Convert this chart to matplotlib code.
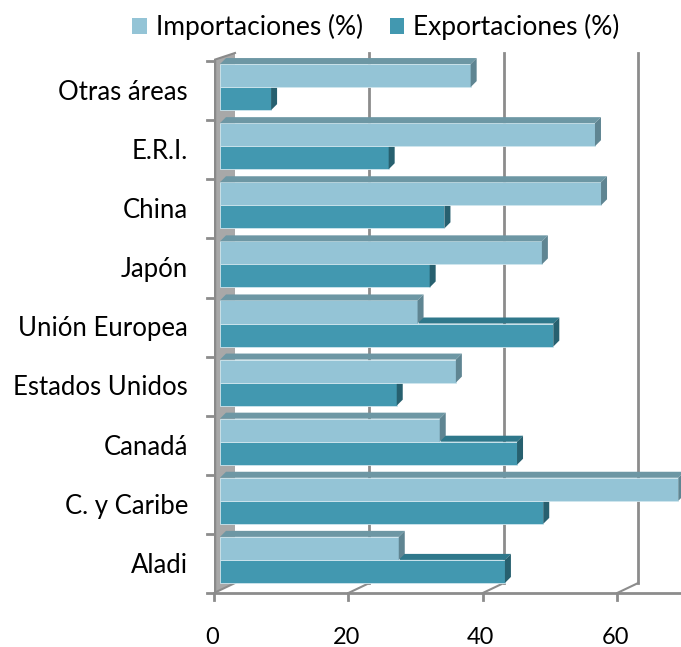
import matplotlib
matplotlib.use("Agg")
import matplotlib.pyplot as plt
from matplotlib.patches import Polygon, Patch
import numpy as np

categories = ["Aladi", "C. y Caribe", "Canadá", "Estados Unidos", "Unión Europea",
              "Japón", "China", "E.R.I.", "Otras áreas"]
importaciones = [26.6, 68.2, 32.7, 35.1, 29.4, 47.9, 56.7, 55.8, 37.3]
exportaciones = [42.4, 48.1, 44.2, 26.3, 49.6, 31.2, 33.4, 25.1, 7.6]
x_ticks = [0, 20, 40, 60]
series_names = ["Importaciones (%)", "Exportaciones (%)"]

plt.rcParams['font.family'] = ['Lato', 'DejaVu Sans']

W, H = 681, 647
fig = plt.figure(figsize=(W / 100, H / 100), dpi=100)
# axes covering pixel box x 214..681, y 40..593
L, R, T, B = 214, 681, 40, 593
ax = fig.add_axes([L / W, 1 - B / H, (R - L) / W, (B - T) / H])
pxu = 6.72   # pixels per value unit
pyu = 59.1   # pixels per category
ax.set_xlim(0, (R - L) / pxu)
ax.set_ylim(0, (B - T) / pyu)
for s in ax.spines.values():
    s.set_visible(False)
ax.set_xticks([])
ax.set_yticks([])

# 3D geometry (in data units)
wall_dx, wall_dy = 21 / pxu, 10 / pyu
bar_dx, bar_dy = 6 / pxu, 6 / pyu
bar_ox = 6 / pxu
n = len(categories)
grid_c = "#8c8c8c"

top_front = n + 0.02
top_back = (B - 53) / pyu
# left wall
ax.add_patch(Polygon([(0, 0), (0, top_front), (wall_dx, top_back), (wall_dx, wall_dy)],
                     closed=True, facecolor="#a8a8a8", edgecolor="none", zorder=1))
ax.plot([0, 0], [0, top_front], color="#8a8a8a", lw=2.5, zorder=1.5, solid_capstyle="butt")
ax.plot([0, wall_dx], [top_front, top_back], color="#8a8a8a", lw=1.5, zorder=1.5)

# back gridlines
for v in x_ticks[1:]:
    ax.plot([v + wall_dx, v + wall_dx], [wall_dy, top_back], color=grid_c, lw=2, zorder=1)
    ax.plot([v, v + wall_dx], [0, wall_dy], color=grid_c, lw=1.5, zorder=1)
ax.plot([0, wall_dx], [0, wall_dy], color=grid_c, lw=1.5, zorder=1)

# floor front line and ticks
ax.plot([0, (R - L) / pxu], [0, 0], color=grid_c, lw=2, zorder=2, clip_on=False)
for v in x_ticks:
    ax.plot([v, v], [0, -7 / pyu], color=grid_c, lw=2, zorder=2, clip_on=False)
    ax.text(v - 0.3, -44 / pyu, str(v), ha="center", va="center", fontsize=17, color="black")

# left ticks at category boundaries
for i in range(n + 1):
    ax.plot([-7 / pxu, 0], [i, i], color=grid_c, lw=2, clip_on=False)
for i, c in enumerate(categories):
    ax.text(-26 / pxu, i + 0.47, c, ha="right", va="center", fontsize=18.5, color="black")

h = 0.39
exp_lo = 0.17
imp_lo = exp_lo + h

def draw_bar(v, y0, front, top, side, z):
    ax.barh(y0, v, height=h, left=bar_ox, align="edge", color=front,
            edgecolor="#cfe6ee", linewidth=0.6, zorder=z)
    x1 = bar_ox + v
    y1 = y0 + h
    ax.add_patch(Polygon([(bar_ox, y1), (x1, y1), (x1 + bar_dx, y1 + bar_dy), (bar_ox + bar_dx, y1 + bar_dy)],
                         closed=True, facecolor=top, edgecolor="none", zorder=z))
    ax.add_patch(Polygon([(x1, y0), (x1, y1), (x1 + bar_dx, y1 + bar_dy), (x1 + bar_dx, y0 + bar_dy)],
                         closed=True, facecolor=side, edgecolor="none", zorder=z))

for i in range(n):
    draw_bar(exportaciones[i], i + exp_lo, "#4298b0", "#2f788b", "#27606f", 3 + i * 0.1)
    draw_bar(importaciones[i], i + imp_lo, "#94c4d6", "#6d97a4", "#5f8592", 3.05 + i * 0.1)

handles = [Patch(facecolor="#94c4d6"), Patch(facecolor="#4298b0")]
fig.legend(handles, series_names, loc="center", bbox_to_anchor=(376 / W, 1 - 27 / H),
           ncol=2, frameon=False, fontsize=19, handlelength=0.55, handleheight=0.55,
           handletextpad=0.35, columnspacing=1.0)

fig.savefig("out.png", dpi=100)
